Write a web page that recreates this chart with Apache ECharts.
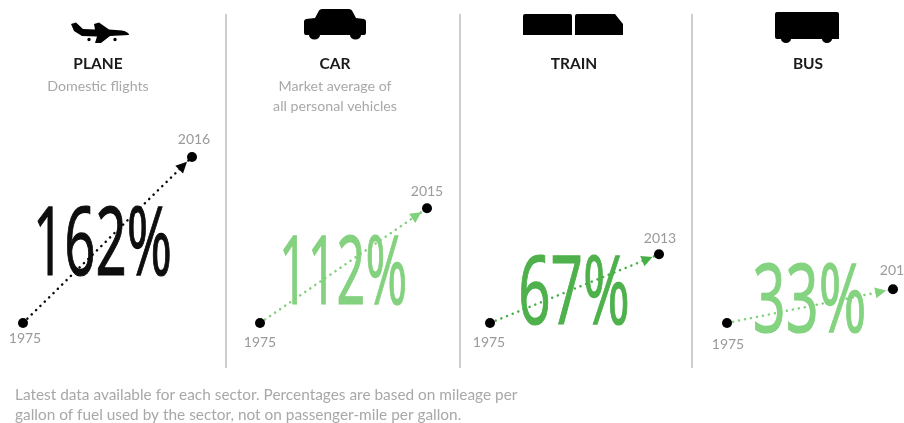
<!DOCTYPE html>
<html>
<head>
<meta charset="utf-8">
<style>
  html, body { margin: 0; padding: 0; background: #fff; }
  #main { width: 904px; height: 423px; }
</style>
<script src="https://cdn.jsdelivr.net/npm/echarts@6/dist/echarts.min.js"></script>
</head>
<body>
<div id="main"></div>
<script>
// data
var sectors = ['PLANE', 'CAR', 'TRAIN', 'BUS'];
var subtitles = [['Domestic flights'], ['Market average of', 'all personal vehicles'], [], []];
var startYear = 1975;
var endYears = [2016, 2015, 2013, 2014];
var increases = [162, 112, 67, 33];
var footnote = [
  'Latest data available for each sector. Percentages are based on mileage per',
  'gallon of fuel used by the sector, not on passenger-mile per gallon.'
];

// styles and layout, one entry per panel
var colors = ['#060606', '#80d07c', '#48ae46', '#80d27c'];
var gridLeft = [23, 260, 490, 727];
var gridWidth = [169, 167, 169, 166];
var centers = [98, 335, 574, 808];
var numberX = [102.5, 343, 574, 809.5];
var numberY = [296, 325, 345, 353];
var numberScale = [0.57, 0.525, 0.59, 0.6];
var startLabelDist = [3, 7, 7, 9];
var startLabelX = [2, 0, -1, 1];
var endLabelOffset = [[2, -1], [0, -1], [1, 0], [3, -3]];
var dividers = [226, 460, 692];

var icons = [
  'M71 24 L76 22.5 L83 29 L95 29.5 L94 24 L99 22.5 L109 29.5 L122 30.5 Q129 32 129 35 L110 36 L101 43 L95 43 L97 36.5 L82 36 L74 31 Z M87.3 39.5 a1.7 1.7 0 1 0 3.4 0 a1.7 1.7 0 1 0 -3.4 0 Z M113.3 39.5 a1.7 1.7 0 1 0 3.4 0 a1.7 1.7 0 1 0 -3.4 0 Z',
  'M315 18 L319 10.5 Q320 9 322 9 L349 9 Q351 9 352 10.5 L356 18 L364 19 Q366 19.5 366 21.5 L366 33 Q366 35 364 35 L361 35 A5.5 4.5 0 0 1 350 35 L320 35 A5.5 4.5 0 0 1 309 35 L306 35 Q304 35 304 33 L304 21.5 Q304 19.5 306 19 Z',
  'M525 14 L570 14 Q572 14 572 16 L572 35 L523 35 L523 16 Q523 14 525 14 Z M577 14 L615 14 L623 24 L623 35 L575 35 L575 16 Q575 14 577 14 Z',
  'M777 12 L837 12 Q839 12 839 14 L839 39 L832 39 A5 4 0 0 1 822 39 L791 39 A5 4 0 0 1 781 39 L777 39 Q775 39 775 37 L775 14 Q775 12 777 12 Z'
];

var grids = [], xAxes = [], yAxes = [], series = [], graphics = [];

sectors.forEach(function (name, i) {
  grids.push({ left: gridLeft[i], width: gridWidth[i], top: 118, height: 205 });
  xAxes.push({ type: 'value', gridIndex: i, min: startYear, max: endYears[i], show: false });
  yAxes.push({ type: 'value', gridIndex: i, min: 0, max: 200, show: false });

  var labelStyle = { show: true, color: '#9a9a9a', fontSize: 14, fontFamily: 'Lato' };
  series.push({
    type: 'line',
    xAxisIndex: i,
    yAxisIndex: i,
    clip: false,
    animation: false,
    symbol: 'circle',
    symbolSize: 10,
    itemStyle: { color: '#000' },
    lineStyle: { color: colors[i], width: 2.5, type: [0.1, 6], cap: 'round' },
    z: 2,
    data: [
      { value: [startYear, 0], label: Object.assign({}, labelStyle, { position: 'bottom', distance: startLabelDist[i], offset: [startLabelX[i], 0], formatter: String(startYear) }) },
      { value: [endYears[i], increases[i]], label: Object.assign({}, labelStyle, { position: 'top', distance: 4, offset: endLabelOffset[i], formatter: String(endYears[i]) }) }
    ]
  });

  // arrow head just short of the end dot, pointing along the line
  series.push({
    type: 'custom',
    xAxisIndex: i,
    yAxisIndex: i,
    clip: false,
    animation: false,
    silent: true,
    z: 3,
    data: [[startYear, 0, endYears[i], increases[i]]],
    renderItem: function (params, api) {
      var a = api.coord([api.value(0), api.value(1)]);
      var b = api.coord([api.value(2), api.value(3)]);
      var ang = Math.atan2(b[1] - a[1], b[0] - a[0]);
      var ux = Math.cos(ang), uy = Math.sin(ang);
      var tx = b[0] - ux * 7, ty = b[1] - uy * 7;
      var bx = tx - ux * 11, by = ty - uy * 11;
      return {
        type: 'polygon',
        shape: { points: [[tx, ty], [bx - uy * 5.5, by + ux * 5.5], [bx + uy * 5.5, by - ux * 5.5]] },
        style: { fill: colors[i] }
      };
    }
  });

  // sector icon
  series.push({
    type: 'custom',
    coordinateSystem: 'none',
    animation: false,
    silent: true,
    z: 5,
    data: [[i]],
    renderItem: function () {
      return { type: 'path', shape: { pathData: icons[i] }, style: { fill: '#000' } };
    }
  });

  graphics.push({
    type: 'text', x: centers[i], y: 64, z: 5,
    style: { text: name, fill: '#1a1a1a', font: 'bold 15.5px Lato', textAlign: 'center', textVerticalAlign: 'middle' }
  });
  subtitles[i].forEach(function (line, j) {
    graphics.push({
      type: 'text', x: centers[i], y: 86 + j * 20, z: 5,
      style: { text: line, fill: '#a8a8a8', font: '14.2px Lato', textAlign: 'center', textVerticalAlign: 'middle' }
    });
  });
  graphics.push({
    type: 'text', x: numberX[i], y: numberY[i], z: 10, scaleX: numberScale[i],
    style: { text: increases[i] + '%', fill: colors[i], stroke: colors[i], lineWidth: 1.2, font: '96px "Open Sans"', textAlign: 'center', textVerticalAlign: 'bottom', opacity: 0.97 }
  });
});

dividers.forEach(function (x) {
  graphics.push({ type: 'line', shape: { x1: x, y1: 14, x2: x, y2: 368 }, style: { stroke: '#bdbdbd', lineWidth: 1.5 } });
});
footnote.forEach(function (line, j) {
  graphics.push({
    type: 'text', x: 15, y: 395 + j * 20,
    style: { text: line, fill: '#a8a8a8', font: '15.4px Lato', textAlign: 'left', textVerticalAlign: 'middle' }
  });
});

var chart = echarts.init(document.getElementById('main'));
chart.setOption({
  backgroundColor: '#fff',
  animation: false,
  grid: grids,
  xAxis: xAxes,
  yAxis: yAxes,
  series: series,
  graphic: graphics
});
</script>
</body>
</html>
